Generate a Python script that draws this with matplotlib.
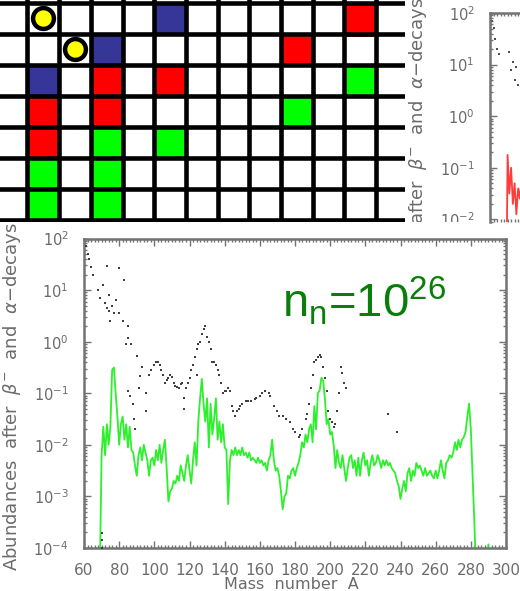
import numpy as np
import matplotlib
matplotlib.use("Agg")
import matplotlib.pyplot as plt
from matplotlib.patches import Rectangle
from matplotlib.ticker import MultipleLocator, LogLocator, NullFormatter, FixedLocator
from matplotlib.transforms import Bbox, TransformedBbox

W, H = 520, 591   # canvas size in pixels

# ---------------------------------------------------------------- lattice
# cells are (column, row); columns 0..12 and rows 0..6
blue_cells = [(5, 0), (3, 1), (1, 2)]
red_cells = [(11, 0), (9, 1), (3, 2), (5, 2), (1, 3), (3, 3), (1, 4)]
green_cells = [(11, 2), (9, 3), (3, 4), (5, 4), (1, 5), (3, 5), (1, 6), (3, 6)]
yellow_dots = [(1, 0), (2, 1)]
red_overhang = [(11, 1)]

# ---------------------------------------------------------------- abundances, n_n = 1e26
mass_A = list(range(69, 292))
green_log = [
    -4.5,
    -2.2, -1.65, -2.2, -1.6, -2.0, -1.65, -0.55, -0.5, -1.0, -1.45,     # 70
    -2.0, -1.6, -1.45, -1.9, -1.6, -2.05, -1.65, -2.1, -2.15, -2.4,     # 80
    -2.6, -2.2, -2.05, -2.3, -2.0, -2.15, -2.3, -2.6, -2.3, -2.25,      # 90
    -2.4, -2.1, -2.3, -2.0, -2.35, -2.1, -1.9, -2.45, -3.1, -2.9,       # 100
    -2.85, -2.7, -2.75, -2.6, -2.7, -2.4, -2.55, -2.7, -2.4, -2.2,      # 110
    -2.5, -2.75, -2.3, -1.95, -2.4, -1.55, -1.1, -0.72, -1.2, -1.55,    # 120
    -1.1, -2.05, -1.2, -1.8, -1.5, -1.1, -1.9, -1.55, -1.95, -1.6,      # 130
    -2.05, -2.1, -3.15, -2.3, -2.1, -2.2, -2.05, -2.2, -2.1, -2.2,      # 140
    -2.05, -2.2, -2.15, -2.25, -2.15, -2.3, -2.25, -2.3, -2.35, -2.25,  # 150
    -2.35, -2.3, -2.4, -2.35, -2.5, -2.3, -2.2, -1.9, -2.3, -2.5,       # 160
    -2.45, -2.6, -2.9, -3.25, -3.0, -2.95, -2.6, -2.65, -2.5, -2.45,    # 170
    -2.6, -2.45, -2.35, -2.2, -1.95, -2.05, -1.8, -1.95, -1.7, -1.6,    # 180
    -1.95, -1.25, -1.7, -1.0, -0.95, -0.7, -0.75, -1.1, -1.6, -1.5,     # 190
    -1.8, -1.75, -2.0, -2.45, -2.1, -2.35, -2.45, -2.2, -2.45, -2.7,    # 200
    -2.45, -2.25, -2.2, -2.45, -2.3, -2.6, -2.25, -2.6, -2.3, -2.15,    # 210
    -2.4, -2.3, -2.6, -2.35, -2.2, -2.4, -2.35, -2.2, -2.3, -2.45,      # 220
    -2.3, -2.4, -2.3, -2.4, -2.35, -2.45, -2.5, -2.55, -2.7, -2.8,      # 230
    -3.05, -2.85, -2.7, -2.9, -2.55, -2.45, -2.7, -2.5, -2.6, -2.35,    # 240
    -2.45, -2.4, -2.5, -2.6, -2.45, -2.6, -2.55, -2.5, -2.6, -2.65,     # 250
    -2.5, -2.65, -2.5, -2.3, -2.5, -2.65, -2.35, -2.3, -2.2, -2.25,     # 260
    -2.15, -1.95, -2.1, -1.9, -2.05, -1.9, -1.85, -1.75, -1.45, -1.2,   # 270
    -1.7, -2.6, -3.5, -4.5, -4.5, -4.5, -4.5, -4.5, -4.5, -4.5,         # 280
    -3.93, -4.5,                                                        # 290
]

black_A = [61, 62, 63, 64, 65, 68, 69, 70, 70, 70, 71, 72, 73, 73, 74, 74, 75, 76, 77, 78,
           80, 80, 82, 83, 84, 85, 85, 85, 86, 87, 88, 88.5, 89, 90, 91, 92, 93, 95, 95,
           97, 98, 100, 101, 102, 103, 104, 105, 106, 107, 108, 109, 110, 111, 112, 113,
           114, 115, 116, 117, 117, 118, 119, 120, 121, 122, 123, 124, 124, 125, 126,
           127, 128, 129, 130, 131, 132, 133, 134, 135, 136, 137, 138, 139, 140, 141,
           142, 143, 144, 145, 146, 147, 148, 149, 150, 152, 153, 155, 157, 158, 160,
           161, 163, 165, 166, 168, 170, 171, 173, 175, 177, 179, 180, 182, 183, 184,
           186, 187, 188, 189, 190, 191, 192, 193, 194, 195, 196, 197, 198, 199, 200,
           201, 202, 203, 204, 205, 206, 207, 208, 209, 233, 238]
black_log = [1.85, 1.7, 1.6, 1.45, 1.3, 1.0, 0.85, -3.7, -3.85, -4.0, 1.1, 0.75, 1.47, 0.65,
             0.9, 0.6, 0.4, 0.7, 0.55, 0.8,
             1.43, 0.55, 0.4, 1.2, -0.05, 0.3, 0.07, -0.95, -1.05, -0.05, -1.2, -1.5, -1.7,
             -0.27, -0.9, -0.66, -0.5, -1.0, -1.35,
             -0.65, -0.55, -0.45, -0.4, -0.4, -0.45, -0.55, -0.64, -0.8, -0.75, -0.7,
             -0.65, -0.68, -0.8, -0.85, -0.88,
             -0.9, -0.82, -0.8, -1.1, -1.3, -0.9, -0.8, -0.7, -0.55, -0.45, -0.3, -0.15,
             -0.65, -0.05, 0.0,
             0.15, 0.25, 0.3, 0.1, 0.0, -0.15, -0.4, -0.4, -0.45, -0.55, -0.65, -0.8,
             -1.0, -0.95, -0.95,
             -0.9, -0.95, -1.25, -1.35, -1.45, -1.35, -1.3, -1.25, -1.2, -1.15, -1.15,
             -1.15, -1.12, -1.1, -1.05,
             -1.0, -0.95, -1.0, -1.05, -1.25, -1.35, -1.45, -1.45, -1.5, -1.55, -1.7,
             -1.75, -1.85, -1.8, -1.7,
             -1.5, -1.4, -1.2, -0.9, -0.65, -0.4, -0.35, -0.3, -0.25, -0.3, -0.5, -0.7,
             -0.95, -1.35, -1.5,
             -1.55, -1.65, -1.6, -1.35, -1.0, -0.5, -0.6, -0.8, -0.9, -1.4, -1.75]

# second run, only its low-A corner shows
inset_red_A = [69, 70, 71, 72, 73, 74, 75, 76, 77, 78, 79, 80]
inset_red_log = [-4.5, -0.75, -1.5, -1.0, -1.7, -1.3, -1.9, -1.4, -1.6, -1.2, -1.7, -1.5]
inset_black_A = [61, 62, 63, 64, 65, 71, 72, 73, 74, 75, 76, 78]
inset_black_log = [1.85, 1.7, 1.5, 1.3, 1.2, 1.25, 0.9, 1.05, 0.7, 0.95, 0.6, 0.75]

FRAME = "0.45"
LABEL = "0.42"
ylab = "Abundances  after  $\\beta^{-}$  and  $\\alpha$\u2212decays"


def style_frame(ax):
    ax.set_xlim(60, 300)
    ax.set_yscale("log")
    ax.xaxis.set_major_locator(MultipleLocator(20))
    ax.xaxis.set_minor_locator(MultipleLocator(2))
    ax.yaxis.set_major_locator(LogLocator(base=10, numticks=12))
    ax.yaxis.set_minor_locator(LogLocator(base=10, subs=np.arange(2, 10), numticks=40))
    ax.yaxis.set_minor_formatter(NullFormatter())
    ax.tick_params(which="both", direction="in", top=True, right=True,
                   color=FRAME, width=1.0)
    ax.tick_params(which="major", length=5)
    ax.tick_params(which="minor", length=2.5)
    ax.tick_params(axis="x", which="major", pad=10.5, labelsize=11, labelcolor=LABEL)
    ax.tick_params(axis="y", which="major", pad=11, labelsize=10.5, labelcolor=LABEL)
    for s in ax.spines.values():
        s.set_linewidth(1.8)
        s.set_color(FRAME)


fig = plt.figure(figsize=(W / 100, H / 100), dpi=100)

# ---- lattice panel (top left)
gx = fig.add_axes([0, 1 - 222 / H, 405 / W, 222 / H])
gx.set_xlim(0.1325, 12.91)
gx.set_ylim(7.058, -0.0804)
gx.axis("off")
for cells, col in [(blue_cells, "#363699"), (red_cells, "#ff0000"), (green_cells, "#00ff00")]:
    for c, r in cells:
        gx.add_patch(Rectangle((c, r), 1, 1, facecolor=col, edgecolor="none", zorder=1))
for c, r in red_overhang:
    gx.add_patch(Rectangle((c, r), 1, 0.12, facecolor="#ff0000", edgecolor="none", zorder=1))
for k in range(1, 13):
    gx.axvline(k, color="black", lw=3.3, zorder=2)
for j in range(0, 8):
    gx.axhline(j, color="black", lw=3.3, zorder=2)
gx.plot([c + 0.5 for c, r in yellow_dots], [r + 0.5 for c, r in yellow_dots], "o",
        ms=15, mfc="#ffff00", mec="black", mew=3.2, zorder=3)

# ---- second run, cut off by the canvas (top right)
ax2 = fig.add_axes([490 / W, 1 - 222 / H, 422 / W, 209 / H])
style_frame(ax2)
ax2.set_ylim(10 ** (2 - 209 / 51.6), 1e2)
ax2.yaxis.set_major_locator(FixedLocator([1e-2, 1e-1, 1e0, 1e1, 1e2]))
ax2.spines["bottom"].set_visible(False)
ax2.tick_params(bottom=False, labelbottom=False)
ax2.plot(inset_red_A, 10 ** np.array(inset_red_log), color="#ff3c3c", lw=1.3)
ax2.plot(inset_black_A, 10 ** np.array(inset_black_log), ls="none", marker="s",
         ms=1.9, color="0.3", mew=0)
cut = TransformedBbox(Bbox.from_extents(0, 1 - 222 / H, 1, 1), fig.transFigure)
t2 = fig.text(418 / W, 1 - 171.5 / H, ylab, rotation=90, ha="center", va="center",
              fontsize=13, color=LABEL)
t2.set_clip_box(cut)
t2.set_clip_on(True)

# ---- main panel
ax = fig.add_axes([84 / W, 1 - 548 / H, 422 / W, 309.5 / H])
style_frame(ax)
ax.set_ylim(1e-4, 1e2)
ax.plot(mass_A, 10 ** np.array(green_log), color="#2cf02c", lw=1.3, zorder=2)
ax.plot(black_A, 10 ** np.array(black_log), ls="none", marker="s", ms=1.9,
        color="0.25", mew=0, zorder=3)
ax.text(0.469, 0.746, r"n$_\mathregular{n}$=10$^\mathregular{26}$", transform=ax.transAxes,
        fontsize=34, family="Liberation Sans", color="#0b7d0b", va="baseline", ha="left")

fig.text(12 / W, 1 - 397 / H, ylab, rotation=90, ha="center", va="center",
         fontsize=13, color=LABEL)
fig.text(291 / W, 1 - 589 / H, "Mass  number  A", ha="center", va="baseline",
         fontsize=11.5, color=LABEL)

fig.canvas.draw()
for tk in ax2.yaxis.get_major_ticks():
    tk.label1.set_clip_box(cut)
    tk.label1.set_clip_on(True)

fig.savefig("out.png", dpi=100, facecolor="white")
